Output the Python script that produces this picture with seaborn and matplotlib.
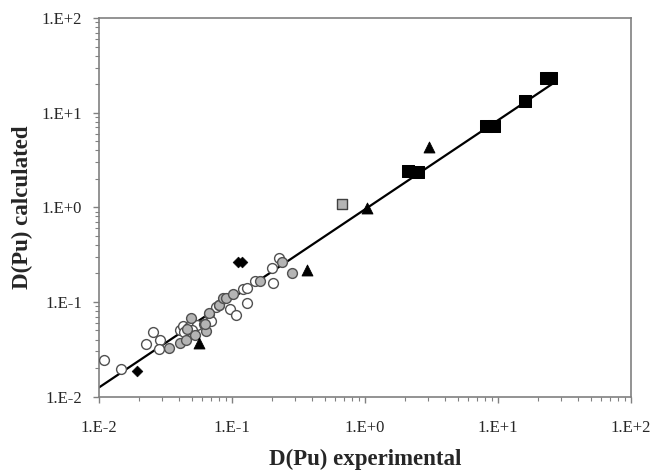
import numpy as np
import pandas as pd
import matplotlib
matplotlib.use("Agg")
import matplotlib.pyplot as plt
import seaborn as sns
from matplotlib.ticker import LogLocator, FuncFormatter, NullFormatter

# open circles
open_x = [0.0109, 0.0146, 0.0226, 0.0257, 0.0288, 0.0282, 0.0408, 0.0427, 0.0474,
          0.0546, 0.0616, 0.0672, 0.0703, 0.0767, 0.0795, 0.0975, 0.108, 0.131,
          0.121, 0.130, 0.150, 0.203, 0.202, 0.227, 0.0505, 0.0440]
open_y = [0.0244, 0.0197, 0.0356, 0.0480, 0.0400, 0.0315, 0.0505, 0.0556, 0.0547,
          0.0570, 0.0590, 0.0750, 0.0630, 0.0880, 0.0930, 0.0850, 0.0730, 0.0980,
          0.138, 0.141, 0.165, 0.157, 0.229, 0.293, 0.0500, 0.0480]

# grey circles
grey_x = [0.0335, 0.0407, 0.0452, 0.0490, 0.0530, 0.0645, 0.0632, 0.0670, 0.0800,
          0.0858, 0.0912, 0.102, 0.164, 0.238, 0.284, 0.0460]
grey_y = [0.0325, 0.0368, 0.0395, 0.0670, 0.0447, 0.0497, 0.0578, 0.0770, 0.0925,
          0.111, 0.111, 0.121, 0.167, 0.262, 0.203, 0.0520]

tri_x = [0.0565, 0.366, 1.03, 3.03]
tri_y = [0.0365, 0.218, 0.98, 4.3]

dia_x = [0.0195, 0.111, 0.119]
dia_y = [0.0188, 0.261, 0.261]

gsq_x = [0.677]
gsq_y = [1.09]

sq_x = [2.10, 2.52, 8.1, 9.3, 16.0, 22.8, 25.0]
sq_y = [2.44, 2.37, 7.3, 7.3, 13.3, 23.4, 23.4]

fit_x = [0.01, 25.4]
fit_y = [0.0124, 20.0]

sns.set_style("ticks")
plt.rcParams['font.family'] = ['Liberation Serif', 'DejaVu Serif']

fig, ax = plt.subplots(figsize=(6.58, 4.76), dpi=100)
fig.subplots_adjust(left=0.150, right=0.959, bottom=0.167, top=0.962)

sns.lineplot(x=fit_x, y=fit_y, color='black', linewidth=1.6, ax=ax, zorder=2)

sns.scatterplot(x=open_x, y=open_y, marker='o', s=50, facecolor='white',
                edgecolor='#505050', linewidth=1.0, ax=ax, zorder=3)
sns.scatterplot(x=grey_x, y=grey_y, marker='o', s=50, facecolor='#b4b4b4',
                edgecolor='#505050', linewidth=1.0, ax=ax, zorder=3)
sns.scatterplot(x=tri_x, y=tri_y, marker='^', s=62, color='black',
                edgecolor='black', ax=ax, zorder=4)
sns.scatterplot(x=dia_x, y=dia_y, marker='D', s=30, color='black',
                edgecolor='black', ax=ax, zorder=4)
sns.scatterplot(x=gsq_x, y=gsq_y, marker='s', s=62, facecolor='#b4b4b4',
                edgecolor='#404040', linewidth=1.0, ax=ax, zorder=4)
sns.scatterplot(x=sq_x, y=sq_y, marker='s', s=85, color='black',
                edgecolor='black', ax=ax, zorder=4)

ax.set_xscale('log')
ax.set_yscale('log')
ax.set_xlim(0.01, 100)
ax.set_ylim(0.01, 100)

fmt = FuncFormatter(lambda v, p: "1.E%+d" % int(round(np.log10(v))))
for a in (ax.xaxis, ax.yaxis):
    a.set_major_locator(LogLocator(base=10, numticks=10))
    a.set_minor_locator(LogLocator(base=10, subs=np.arange(2, 10), numticks=10))
    a.set_major_formatter(fmt)
    a.set_minor_formatter(NullFormatter())

for sp in ax.spines.values():
    sp.set_color('#808080')
    sp.set_linewidth(1.2)
ax.tick_params(which='major', direction='out', length=4, width=1.0,
               color='#808080', labelsize=12)
ax.tick_params(which='minor', direction='out', length=3, width=0.8,
               color='#808080')
ax.tick_params(axis='x', which='major', pad=13)
ax.tick_params(axis='y', which='major', pad=8)

ax.set_xlabel("D(Pu) experimental", fontsize=16.5, fontweight='bold', labelpad=9)
ax.set_ylabel("D(Pu) calculated", fontsize=16.5, fontweight='bold', labelpad=6)

fig.savefig("out.png", dpi=100)
